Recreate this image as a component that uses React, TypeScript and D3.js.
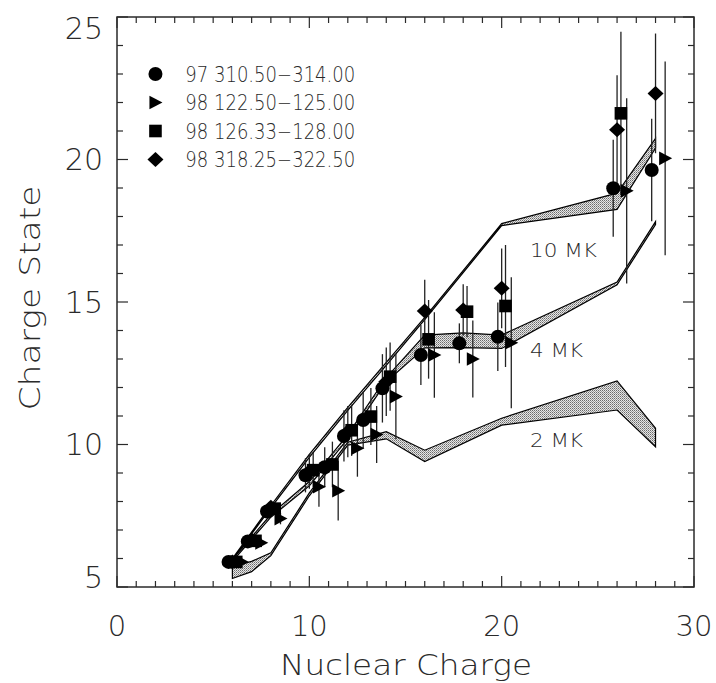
import React from "react";
import * as d3 from "d3";

// ---------- data ----------
const X_DOMAIN = [0, 30];
const Y_DOMAIN = [5, 25];
const X_TICKS = [0, 10, 20, 30];
const Y_TICKS = [5, 10, 15, 20, 25];

// model bands (lower / upper mean charge vs nuclear charge)
const BAND10_Z = [6, 8, 10, 12, 14, 16, 20, 26, 28];
const BAND10_LO = [5.95, 7.78, 9.55, 11.2, 12.78, 14.38, 17.68, 18.25, 20.4];
const BAND10_HI = [6.0, 7.86, 9.65, 11.3, 12.88, 14.46, 17.75, 18.82, 20.74];

const BAND4_Z = [6, 8, 10, 12, 14, 16, 18, 20, 26, 28];
const BAND4_LO = [5.9, 7.45, 8.55, 10.2, 12.2, 13.39, 13.4, 13.37, 15.6, 17.72];
const BAND4_HI = [5.97, 7.55, 8.7, 10.35, 12.35, 13.84, 13.92, 13.84, 15.7, 17.82];

const BAND2_Z = [6, 7, 8, 10, 12, 14, 16, 20, 26, 28];
const BAND2_LO = [5.3, 5.54, 6.1, 8.2, 9.98, 10.2, 9.4, 10.68, 11.21, 9.92];
const BAND2_HI = [5.72, 5.9, 6.2, 8.3, 10.08, 10.45, 9.8, 10.92, 12.23, 10.57];

const BAND_LABELS = ["10 MK", "4 MK", "2 MK"];

// observations
const S1_LABEL = "97 310.50\u2212314.00";
const S1_Z = [6, 7, 8, 10, 11, 12, 13, 14, 16, 18, 20, 26, 28];
const S1_Q = [5.88, 6.6, 7.65, 8.92, 9.2, 10.3, 10.86, 11.97, 13.14, 13.55, 13.78, 18.99, 19.63];
const S1_E = [0.1, 0.1, 0.15, 0.6, 0.7, 0.9, 1.0, 1.2, 1.05, 0.7, 1.2, 1.7, 1.8];

const S2_LABEL = "98 122.50\u2212125.00";
const S2_Z = [6, 7, 8, 10, 11, 12, 13, 14, 16, 18, 20, 26, 28];
const S2_Q = [5.88, 6.55, 7.4, 8.52, 8.38, 9.87, 10.35, 11.68, 13.14, 13.0, 13.57, 18.9, 20.04];
const S2_E = [0.1, 0.15, 0.2, 0.7, 1.05, 1.0, 1.0, 1.5, 1.5, 1.35, 2.3, 3.25, 3.4];

const S3_LABEL = "98 126.33\u2212128.00";
const S3_Z = [6, 7, 8, 10, 11, 12, 13, 14, 16, 18, 20, 26];
const S3_Q = [5.88, 6.62, 7.75, 9.1, 9.3, 10.5, 10.98, 12.38, 13.69, 14.66, 14.86, 21.62];
const S3_E = [0.1, 0.1, 0.15, 0.6, 0.8, 0.9, 1.0, 1.2, 1.38, 0.9, 2.14, 2.86];

const S4_LABEL = "98 318.25\u2212322.50";
const S4_Z = [6, 7, 8, 10, 12, 14, 16, 18, 20, 26, 28];
const S4_Q = [5.88, 6.65, 7.8, 9.05, 10.45, 12.2, 14.68, 14.72, 15.48, 21.04, 22.32];
const S4_E = [0.1, 0.1, 0.15, 0.6, 0.9, 1.2, 1.1, 0.9, 1.4, 1.92, 2.1];

// ---------- layout ----------
const W = 716;
const H = 683;
const M = { left: 117, right: 694, top: 17, bottom: 587 };
const FONT = "'DejaVu Sans', 'Liberation Sans', sans-serif";
const INK = "#2a2a2a";

const x = d3.scaleLinear().domain(X_DOMAIN).range([M.left, M.right]);
const y = d3.scaleLinear().domain(Y_DOMAIN).range([M.bottom, M.top]);

type Shape = "circle" | "triangle" | "square" | "diamond";

function Marker({ shape, cx, cy }: { shape: Shape; cx: number; cy: number }) {
  if (shape === "circle") return <circle cx={cx} cy={cy} r={7} fill="#000" />;
  if (shape === "square") return <rect x={cx - 6.3} y={cy - 6.3} width={12.6} height={12.6} fill="#000" />;
  if (shape === "triangle")
    return <path d={`M${cx - 6} ${cy - 6.8} L${cx + 7} ${cy} L${cx - 6} ${cy + 6.8} Z`} fill="#000" />;
  return <path d={`M${cx} ${cy - 7.5} L${cx + 8} ${cy} L${cx} ${cy + 7.5} L${cx - 8} ${cy} Z`} fill="#000" />;
}

const SERIES: { label: string; z: number[]; q: number[]; e: number[]; shape: Shape; dz: number }[] = [
  { label: S1_LABEL, z: S1_Z, q: S1_Q, e: S1_E, shape: "circle", dz: -0.2 },
  { label: S2_LABEL, z: S2_Z, q: S2_Q, e: S2_E, shape: "triangle", dz: 0.5 },
  { label: S3_LABEL, z: S3_Z, q: S3_Q, e: S3_E, shape: "square", dz: 0.2 },
  { label: S4_LABEL, z: S4_Z, q: S4_Q, e: S4_E, shape: "diamond", dz: 0 },
];

const BANDS = [
  { z: BAND10_Z, lo: BAND10_LO, hi: BAND10_HI },
  { z: BAND4_Z, lo: BAND4_LO, hi: BAND4_HI },
  { z: BAND2_Z, lo: BAND2_LO, hi: BAND2_HI },
];

// label anchors (left edge, vertical centre) in data coordinates
const BAND_LABEL_POS = [
  [21.47, 16.82],
  [21.47, 13.32],
  [21.47, 10.16],
];
const BAND_LABEL_LEN = [67, 53, 53];

const area = d3
  .area<{ z: number; lo: number; hi: number }>()
  .x((d) => x(d.z))
  .y0((d) => y(d.lo))
  .y1((d) => y(d.hi));

export default function App() {
  const xMinor = d3.range(X_DOMAIN[0], X_DOMAIN[1] + 1, 1);
  const yMinor = d3.range(Y_DOMAIN[0], Y_DOMAIN[1] + 1, 1);
  return (
    <div style={{ position: "absolute", left: 0, top: 0 }}>
      <svg width={W} height={H} style={{ display: "block", background: "#fff" }}>
        <defs>
          <pattern id="stip" width={2} height={2} patternUnits="userSpaceOnUse">
            <rect width={2} height={2} fill="#e6e6e6" />
            <rect x={0} y={0} width={1} height={1} fill="#6a6a6a" />
            <rect x={1} y={1} width={1} height={1} fill="#9a9a9a" />
          </pattern>
        </defs>

        {/* bands */}
        {BANDS.map((b, i) => {
          const pts = b.z.map((z, k) => ({ z, lo: b.lo[k], hi: b.hi[k] }));
          return (
            <path key={i} d={area(pts) || ""} fill="url(#stip)" stroke="#000" strokeWidth={1.2} strokeLinejoin="miter" />
          );
        })}

        {/* band labels */}
        {BAND_LABELS.map((t, i) => (
          <text
            key={t}
            x={x(BAND_LABEL_POS[i][0])}
            y={y(BAND_LABEL_POS[i][1])}
            dy="0.36em"
            fontFamily={FONT}
            fontWeight={200}
            fontSize={20}
            textLength={BAND_LABEL_LEN[i]}
            lengthAdjust="spacingAndGlyphs"
            fill={INK}
          >
            {t}
          </text>
        ))}

        {/* error bars */}
        {SERIES.map((s, si) =>
          s.z.map((z, k) => (
            <line
              key={`e${si}-${k}`}
              x1={x(z + s.dz)}
              x2={x(z + s.dz)}
              y1={y(s.q[k] - s.e[k])}
              y2={y(s.q[k] + s.e[k])}
              stroke="#222"
              strokeWidth={1.3}
            />
          ))
        )}
        {/* markers */}
        {SERIES.map((s, si) =>
          s.z.map((z, k) => <Marker key={`m${si}-${k}`} shape={s.shape} cx={x(z + s.dz)} cy={y(s.q[k])} />)
        )}

        {/* frame */}
        <rect
          x={M.left}
          y={M.top}
          width={M.right - M.left}
          height={M.bottom - M.top}
          fill="none"
          stroke={INK}
          strokeWidth={1.5}
        />
        {xMinor.map((v) => {
          const len = v % 10 === 0 ? 11 : 6;
          return (
            <g key={`xt${v}`} stroke={INK} strokeWidth={1.2}>
              <line x1={x(v)} x2={x(v)} y1={M.bottom} y2={M.bottom - len} />
              <line x1={x(v)} x2={x(v)} y1={M.top} y2={M.top + len} />
            </g>
          );
        })}
        {yMinor.map((v) => {
          const len = v % 5 === 0 ? 11 : 6;
          return (
            <g key={`yt${v}`} stroke={INK} strokeWidth={1.2}>
              <line x1={M.left} x2={M.left + len} y1={y(v)} y2={y(v)} />
              <line x1={M.right} x2={M.right - len} y1={y(v)} y2={y(v)} />
            </g>
          );
        })}
        {/* tick labels */}
        {X_TICKS.map((v) => (
          <text
            key={`xl${v}`}
            x={x(v)}
            y={M.bottom + 49}
            textAnchor="middle"
            fontFamily={FONT}
            fontWeight={200}
            fontSize={29}
            fill={INK}
          >
            {v}
          </text>
        ))}
        {Y_TICKS.map((v) => {
          const cy = Math.min(Math.max(y(v), M.top + 11), M.bottom - 10);
          return (
            <text
              key={`yl${v}`}
              x={M.left - 14}
              y={cy}
              dy="0.36em"
              textAnchor="end"
              fontFamily={FONT}
              fontWeight={200}
              fontSize={30}
              fill={INK}
            >
              {v}
            </text>
          );
        })}
        {/* axis titles */}
        <text
          x={406}
          y={675}
          textAnchor="middle"
          fontFamily={FONT}
          fontWeight={200}
          fontSize={29}
          textLength={252}
          lengthAdjust="spacingAndGlyphs"
          fill={INK}
        >
          Nuclear Charge
        </text>
        <text
          transform={`translate(40, 298) rotate(-90)`}
          textAnchor="middle"
          fontFamily={FONT}
          fontWeight={200}
          fontSize={29}
          textLength={225}
          lengthAdjust="spacingAndGlyphs"
          fill={INK}
        >
          Charge State
        </text>

        {/* legend */}
        {SERIES.map((s, i) => {
          const ly = y(23 - i);
          return (
            <g key={`lg${i}`}>
              <Marker shape={s.shape} cx={x(2)} cy={ly} />
              <text
                x={x(3.55)}
                y={ly}
                dy="0.36em"
                fontFamily={FONT}
                fontWeight={200}
                fontSize={21}
                textLength={170}
                lengthAdjust="spacingAndGlyphs"
                fill={INK}
              >
                {s.label}
              </text>
            </g>
          );
        })}
      </svg>
    </div>
  );
}
